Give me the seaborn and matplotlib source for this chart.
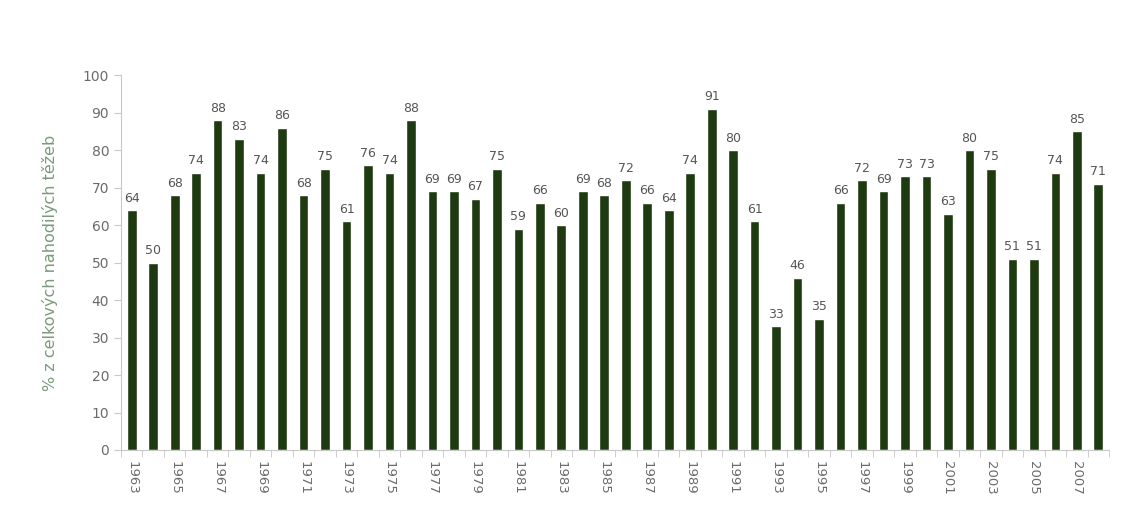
import numpy as np
import pandas as pd
import matplotlib
matplotlib.use("Agg")
import matplotlib.pyplot as plt
import seaborn as sns

years = list(range(1963, 2009))
values = [64, 50, 68, 74, 88, 83, 74, 86, 68, 75, 61, 76, 74, 88, 69, 69, 67, 75,
          59, 66, 60, 69, 68, 72, 66, 64, 74, 91, 80, 61, 33, 46, 35, 66, 72, 69,
          73, 73, 63, 80, 75, 51, 51, 74, 85, 71]
ylabel = "% z celkových nahodilých těžeb"

df = pd.DataFrame({"year": [str(y) for y in years], "value": values})

sns.set_style("white")
plt.rcParams["font.family"] = ["DejaVu Sans"]

bar_color = "#1e3a10"
text_color = "#6b6b6b"
axis_color = "#c8c8c8"

fig = plt.figure(figsize=(11.34, 5.26), dpi=100)
ax = fig.add_axes([0.1067, 0.1445, 0.8713, 0.7125])

sns.barplot(data=df, x="year", y="value", color=bar_color, width=0.45,
            saturation=1, ax=ax)

for i, v in enumerate(values):
    ax.text(i, v + 1.5, str(v), ha="center", va="bottom", fontsize=9,
            color="#555555")

ax.set_ylim(0, 100)
ax.set_xlim(-0.5, len(years) - 0.5)
ax.set_yticks(np.arange(0, 101, 10))
ax.tick_params(axis="y", labelsize=10, labelcolor=text_color, color=axis_color,
               length=5, direction="out", left=True)

labels = [y if int(y) % 2 == 1 else "" for y in df["year"]]
ax.set_xticks(range(len(years)))
ax.set_xticklabels(labels, rotation=-90, fontsize=9.5, color=text_color)
ax.tick_params(axis="x", which="major", length=0, pad=8)
ax.set_xticks(np.arange(-0.5, len(years), 1), minor=True)
ax.tick_params(axis="x", which="minor", length=5, color=axis_color,
               direction="out", bottom=True)

ax.set_xlabel("")
ax.set_ylabel(ylabel, color="#7a9a7a", fontsize=11.5, labelpad=18)
sns.despine(ax=ax)
for s in ["left", "bottom"]:
    ax.spines[s].set_color(axis_color)

fig.savefig("out.png", dpi=100)
